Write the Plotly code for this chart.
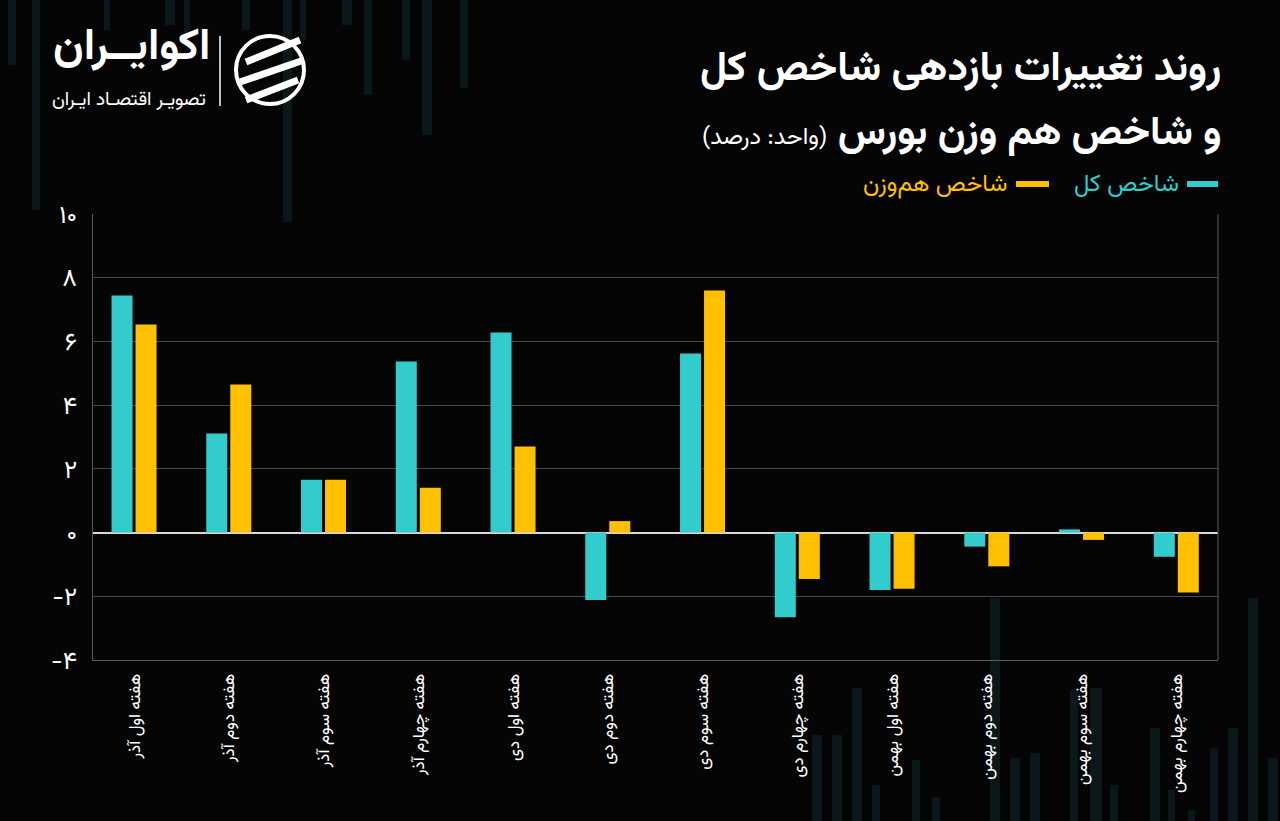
import plotly.graph_objects as go

# ---------------- data ----------------
categories = [
    "هفته اول آذر", "هفته دوم آذر", "هفته سوم آذر", "هفته چهارم آذر",
    "هفته اول دی", "هفته دوم دی", "هفته سوم دی", "هفته چهارم دی",
    "هفته اول بهمن", "هفته دوم بهمن", "هفته سوم بهمن", "هفته چهارم بهمن",
]
total_index = [7.44, 3.11, 1.66, 5.37, 6.28, -2.12, 5.62, -2.66, -1.80, -0.44, 0.10, -0.76]
equal_weight = [6.53, 4.65, 1.66, 1.41, 2.70, 0.36, 7.60, -1.46, -1.76, -1.06, -0.23, -1.88]
series_names = ["شاخص کل", "شاخص هم‌وزن"]
y_tickvals = [-4, -2, 0, 2, 4, 6, 8, 10]
y_ticktext = ["-۴", "-۲", "۰", "۲", "۴", "۶", "۸", "۱۰"]

TEAL = "#33CCCC"
YELLOW = "#FFC000"
BG = "#050505"
FONT = "Vazirmatn, 'Noto Sans Arabic', 'DejaVu Sans', sans-serif"

W, H = 1280, 821
L, R, T, B = 93, 1218, 214, 660  # plot area in pixels


def px(x):
    return (x - L) / (R - L)


def py(y):
    return (B - y) / (B - T)


fig = go.Figure()
fig.add_trace(go.Bar(x=categories, y=total_index, name=series_names[0],
                     marker=dict(color=TEAL, line=dict(width=0)), showlegend=False))
fig.add_trace(go.Bar(x=categories, y=equal_weight, name=series_names[1],
                     marker=dict(color=YELLOW, line=dict(width=0)), showlegend=False))

shapes = []
# faint background stripes (decoration)
top_stripes = [(8, 16, 65), (32, 40, 210), (104, 110, 30), (165, 175, 25), (184, 190, 45),
               (242, 250, 30), (283, 292, 222), (300, 306, 40), (342, 352, 25), (364, 372, 95),
               (402, 410, 60), (422, 432, 135), (460, 468, 88)]
for x0, x1, yb in top_stripes:
    shapes.append(dict(type="rect", xref="paper", yref="paper", x0=px(x0), x1=px(x1),
                       y0=py(0), y1=py(yb), fillcolor="rgba(25,75,85,0.28)", line=dict(width=0),
                       layer="below"))
bottom_stripes = [(812, 822, 735), (832, 842, 735), (852, 862, 688), (872, 880, 785),
                  (912, 920, 760), (932, 940, 797), (990, 1000, 598), (1010, 1020, 758),
                  (1030, 1040, 753), (1070, 1078, 690), (1090, 1102, 688), (1110, 1118, 785),
                  (1150, 1160, 728), (1168, 1175, 790), (1188, 1195, 810), (1210, 1218, 748),
                  (1228, 1238, 728), (1248, 1258, 598), (1268, 1278, 758)]
for x0, x1, yt in bottom_stripes:
    shapes.append(dict(type="rect", xref="paper", yref="paper", x0=px(x0), x1=px(x1),
                       y0=py(821), y1=py(yt), fillcolor="rgba(25,75,85,0.28)", line=dict(width=0),
                       layer="below"))

# plot frame right border
shapes.append(dict(type="line", xref="paper", yref="paper", x0=1, x1=1, y0=0, y1=1,
                   line=dict(color="#5a5a5a", width=1)))

# legend dashes
shapes.append(dict(type="line", xref="paper", yref="paper", x0=px(1187), x1=px(1218),
                   y0=py(184), y1=py(184), line=dict(color=TEAL, width=6)))
shapes.append(dict(type="line", xref="paper", yref="paper", x0=px(1016), x1=px(1049),
                   y0=py(184), y1=py(184), line=dict(color=YELLOW, width=6)))

# logo divider
shapes.append(dict(type="line", xref="paper", yref="paper", x0=px(220), x1=px(220),
                   y0=py(36), y1=py(106), line=dict(color="white", width=1.5)))
# logo icon
shapes.append(dict(type="circle", xref="paper", yref="paper", x0=px(236), x1=px(304),
                   y0=py(36), y1=py(104), line=dict(color="white", width=4)))
for (ax, ay, bx, by) in [(246, 62, 300, 40), (240, 82, 304, 60), (246, 100, 298, 80)]:
    shapes.append(dict(type="line", xref="paper", yref="paper", x0=px(ax), x1=px(bx),
                       y0=py(ay), y1=py(by), line=dict(color="white", width=7)))

annotations = [
    dict(text="<b>روند تغییرات بازدهی شاخص کل</b>", x=px(1222), y=py(70),
         xanchor="right", yanchor="middle", font=dict(size=41, color="white", family=FONT)),
    dict(text="<b>و شاخص هم وزن بورس</b> <span style='font-size:24px'>(واحد: درصد)</span>",
         x=px(1222), y=py(134), xanchor="right", yanchor="middle",
         font=dict(size=40, color="white", family=FONT)),
    dict(text=series_names[0], x=px(1180), y=py(185), xanchor="right", yanchor="middle",
         font=dict(size=24, color=TEAL, family=FONT)),
    dict(text=series_names[1], x=px(1009), y=py(185), xanchor="right", yanchor="middle",
         font=dict(size=24, color=YELLOW, family=FONT)),
    dict(text="<b>اکوایــران</b>", x=px(211), y=py(84), xanchor="right", yanchor="bottom",
         font=dict(size=44, color="white", family=FONT)),
    dict(text="تصویـر اقتصـاد ایـران", x=px(207), y=py(85), xanchor="right", yanchor="top",
         font=dict(size=19, color="white", family=FONT)),
]
for a in annotations:
    a.update(xref="paper", yref="paper", showarrow=False, borderpad=0)

fig.update_layout(
    width=W, height=H,
    margin=dict(l=L, r=W - R, t=T, b=H - B, pad=0),
    paper_bgcolor=BG, plot_bgcolor="rgba(0,0,0,0)",
    barmode="group", bargap=0.493, bargroupgap=0.125,
    font=dict(family=FONT, color="white"),
    shapes=shapes, annotations=annotations,
    xaxis=dict(type="category", range=[-0.433, 11.44], tickangle=-90,
               tickfont=dict(size=17, color="white", family=FONT),
               showgrid=False, showline=True, linecolor="#5a5a5a", linewidth=1,
               ticks="", ticklabelstandoff=6, zeroline=False),
    yaxis=dict(range=[-4, 10], tickvals=y_tickvals, ticktext=y_ticktext,
               tickfont=dict(size=25, color="white", family=FONT),
               showgrid=True, gridcolor="#474747", gridwidth=1,
               showline=True, linecolor="#5a5a5a", linewidth=1,
               zeroline=True, zerolinecolor="#d8d8d8", zerolinewidth=2,
               ticks="", ticklabelstandoff=10),
)

fig.write_html("out.html", config={"displayModeBar": False},
               post_script="document.body.style.margin='0';")
